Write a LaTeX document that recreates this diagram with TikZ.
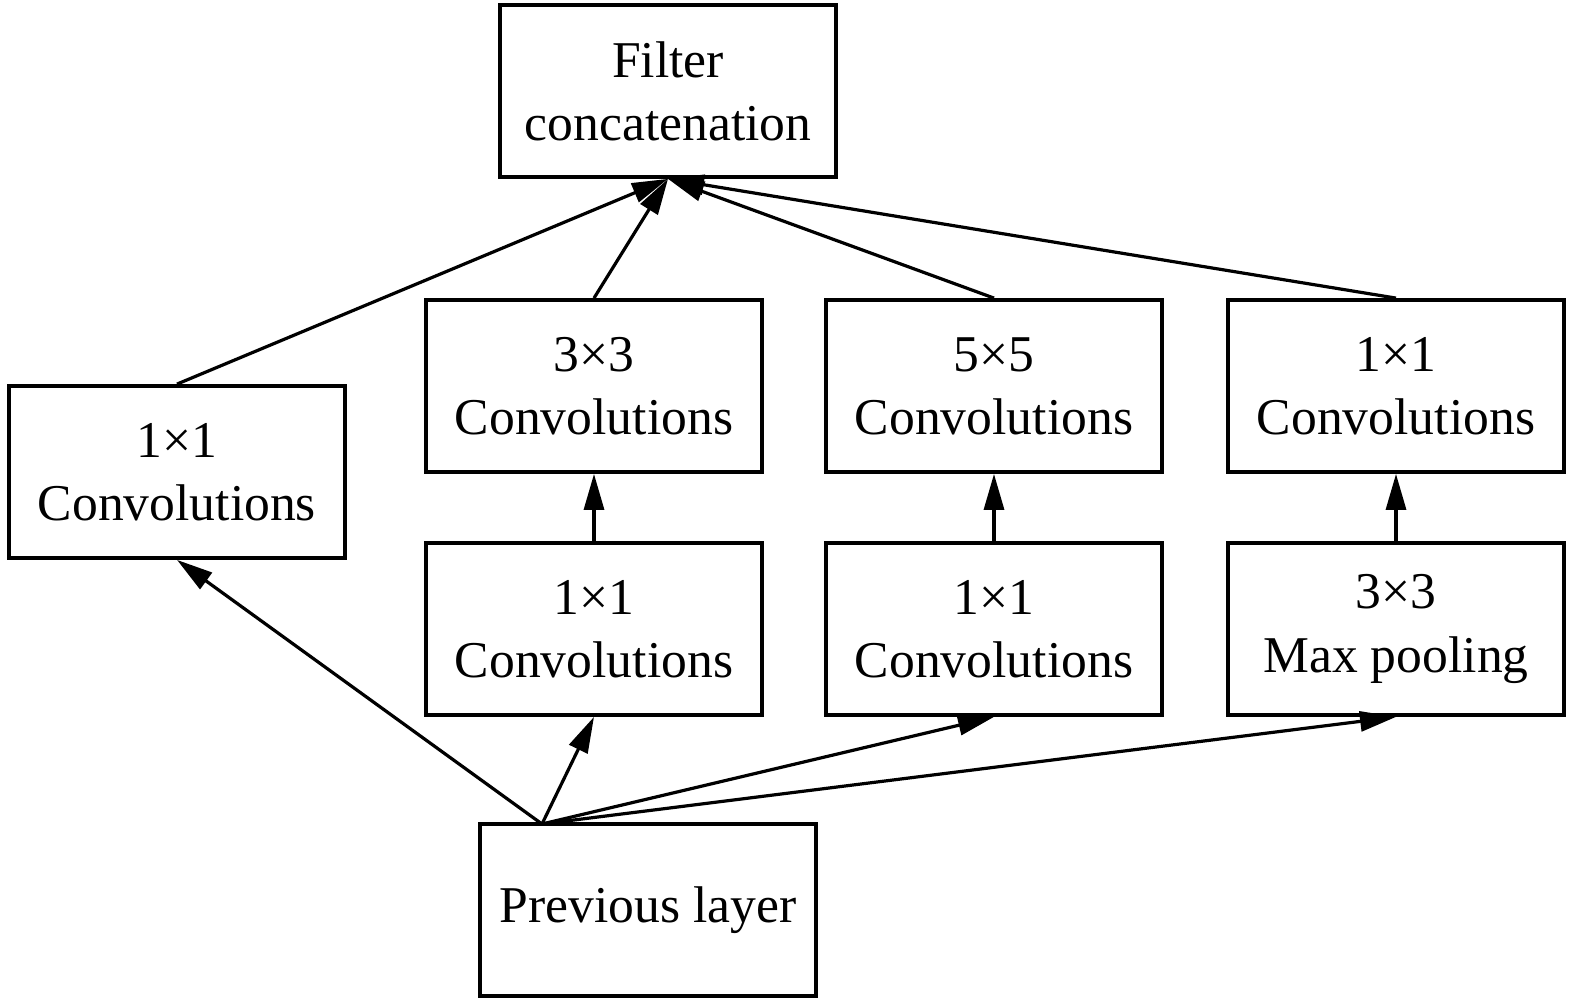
\documentclass[tikz,border=0pt]{standalone}
\usepackage{fontspec}
\setmainfont{Liberation Serif}
\usetikzlibrary{arrows.meta}

\newcommand*{\boxw}{168pt}
\newcommand*{\boxh}{86pt}

\begin{document}
\begin{tikzpicture}
[
	block/.style={draw,line width=1.9pt,minimum width=\boxw,minimum height=\boxh,inner sep=0pt,align=center,font=\fontsize{25.8}{31.6}\selectfont},
	link/.style={line width=1.6pt,-{Triangle[length=18pt,width=10pt]}},
	x=0.5pt,
	y=-0.5pt
]
	\useasboundingbox (0,0) rectangle (1575,1001);

	% boxes
	\node[block] (concat) at (668,91) {Filter\\concatenation};
	\node[block] (convA) at (177,472) {1×1\\Convolutions};
	\node[block] (convB) at (594,386) {3×3\\Convolutions};
	\node[block] (convC) at (994,386) {5×5\\Convolutions};
	\node[block] (convD) at (1396,386) {1×1\\Convolutions};
	\node[block] (redB) at (594,629) {1×1\\Convolutions};
	\node[block] (redC) at (994,629) {1×1\\Convolutions};
	\node[block] (pool) at (1396,629) {3×3\\Max pooling};
	\node[block] (prev) at (648,910) {Previous layer};

	% common start on top of previous layer
	\coordinate (src) at (542,824);

	% from previous layer
	\foreach \dst in {convA,redB,redC,pool} {
		\draw[link] (src) -- (\dst.south);
	}

	% stacked pairs
	\draw[link] (redB) -- (convB);
	\draw[link] (redC) -- (convC);
	\draw[link] (pool) -- (convD);

	% into concatenation
	\foreach \br in {convA,convB,convC,convD} {
		\draw[link] (\br.north) -- (concat.south);
	}

\end{tikzpicture}
\end{document}
